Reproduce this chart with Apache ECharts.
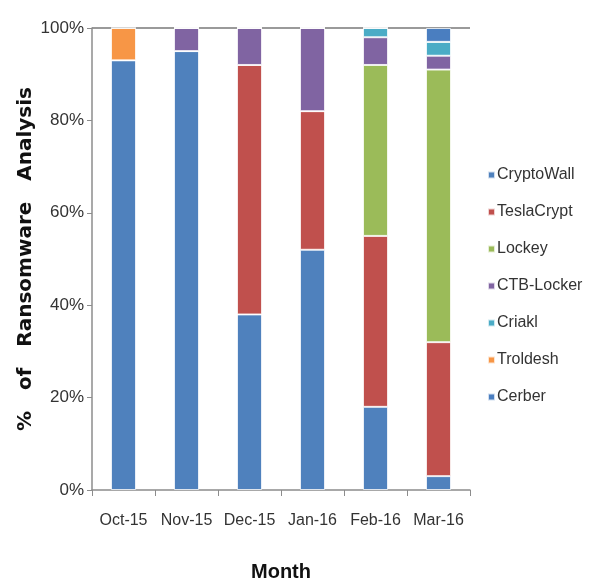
<!DOCTYPE html>
<html>
<head>
<meta charset="utf-8">
<script src="https://cdn.jsdelivr.net/npm/echarts@6/dist/echarts.min.js"></script>
<style>
  html, body { margin: 0; padding: 0; background: #fff; }
  #chart { width: 595px; height: 588px; }
</style>
</head>
<body>
<div id="chart"></div>
<script>
// Monthly share of ransomware families (percent of samples analysed)
const months = ['Oct-15', 'Nov-15', 'Dec-15', 'Jan-16', 'Feb-16', 'Mar-16'];
const cryptoWall = [93, 95, 38, 52, 18, 3];
const teslaCrypt = [0, 0, 54, 30, 37, 29];
const lockey     = [0, 0, 0, 0, 37, 59];
const ctbLocker  = [0, 5, 8, 18, 6, 3];
const criakl     = [0, 0, 0, 0, 2, 3];
const troldesh   = [7, 0, 0, 0, 0, 0];
const cerber     = [0, 0, 0, 0, 0, 3];
const yTicks = [0, 20, 40, 60, 80, 100];

const families = [
  { name: 'CryptoWall', data: cryptoWall, color: '#4F81BD' },
  { name: 'TeslaCrypt', data: teslaCrypt, color: '#C0504D' },
  { name: 'Lockey',     data: lockey,     color: '#9BBB59' },
  { name: 'CTB-Locker', data: ctbLocker,  color: '#8064A2' },
  { name: 'Criakl',     data: criakl,     color: '#4BACC6' },
  { name: 'Troldesh',   data: troldesh,   color: '#F79646' },
  { name: 'Cerber',     data: cerber,     color: '#4A7EC0' }
];

const labelFont = "'Liberation Sans', 'Open Sans', sans-serif";

const chart = echarts.init(document.getElementById('chart'), null, { renderer: 'canvas' });
chart.setOption({
  animation: false,
  backgroundColor: '#fff',
  grid: { left: 92, right: 125, top: 28, bottom: 98, containLabel: false },
  legend: {
    orient: 'vertical',
    left: 482,
    top: 162,
    itemWidth: 7,
    itemHeight: 7,
    itemGap: 21,
    icon: 'rect',
    textStyle: { fontFamily: labelFont, fontSize: 16, color: '#333', padding: [0, 0, 0, -3] },
    data: families.map(f => f.name)
  },
  xAxis: {
    type: 'category',
    data: months,
    name: 'Month',
    nameLocation: 'middle',
    nameGap: 72,
    nameTextStyle: { fontFamily: labelFont, fontWeight: 'bold', fontSize: 20, color: '#111' },
    axisLine: { lineStyle: { color: '#8c8c8c', width: 1.5 } },
    axisTick: { show: true, alignWithLabel: false, length: 6, lineStyle: { color: '#8c8c8c' } },
    axisLabel: { fontFamily: labelFont, fontSize: 16, color: '#333', margin: 23, interval: 0 }
  },
  yAxis: {
    type: 'value',
    min: 0,
    max: 100,
    interval: 20,
    name: '%   of   Ransomware   Analysis',
    nameLocation: 'middle',
    nameGap: 56,
    nameMoveOverlap: false,
    nameRotate: 90,
    nameTextStyle: { fontFamily: "'DejaVu Sans', sans-serif", fontWeight: 'bold', fontSize: 20, color: '#111' },
    axisLine: { show: true, lineStyle: { color: '#8c8c8c', width: 1.5 } },
    axisTick: { show: true, length: 5, lineStyle: { color: '#8c8c8c' } },
    axisLabel: { fontFamily: labelFont, fontSize: 17, color: '#333', margin: 8,
                 formatter: v => yTicks.includes(v) ? v + '%' : '' },
    splitLine: {
      show: true,
      lineStyle: { color: ['transparent', 'transparent', 'transparent', 'transparent', 'transparent', '#9a9a9a'], width: 2 }
    }
  },
  series: families.map(f => ({
    name: f.name,
    type: 'bar',
    stack: 'share',
    barWidth: 25,
    data: f.data,
    itemStyle: { color: f.color, borderColor: 'rgba(255,255,255,0.75)', borderWidth: 1 }
  }))
});
</script>
</body>
</html>
